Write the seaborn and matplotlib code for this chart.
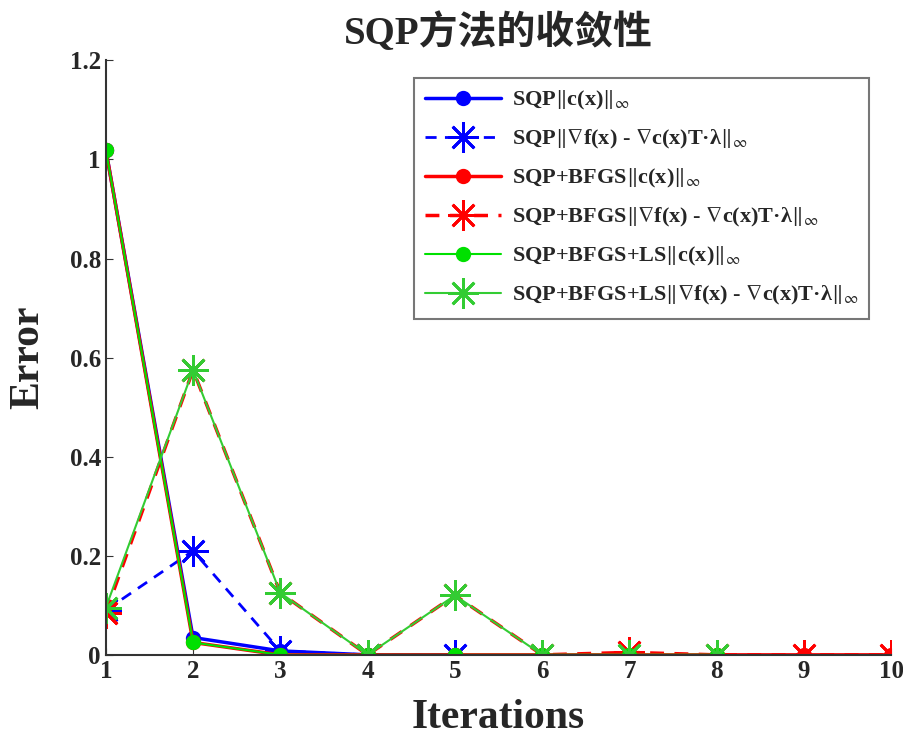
import matplotlib
matplotlib.use("Agg")
import matplotlib.pyplot as plt
import seaborn as sns
import pandas as pd
from matplotlib.ticker import FormatStrFormatter

sns.set_style("ticks")
plt.rcParams['font.family'] = ['Liberation Serif', 'DejaVu Serif', 'Noto Sans CJK SC']
plt.rcParams['mathtext.fontset'] = 'stix'
plt.rcParams['xtick.direction'] = 'in'
plt.rcParams['ytick.direction'] = 'in'

# data
it_sqp = [1, 2, 3, 4, 5]
sqp_c = [1.02, 0.035, 0.008, 0.0, 0.0]
sqp_g = [0.09, 0.21, 0.008, 0.0, 0.0]

it_bfgs = [1, 2, 3, 4, 5, 6, 7, 8, 9, 10]
bfgs_c = [1.02, 0.025, 0.0, 0.0, 0.0, 0.0, 0.0, 0.0, 0.0, 0.0]
bfgs_g = [0.085, 0.575, 0.125, 0.0, 0.12, 0.0, 0.005, 0.0, 0.0, 0.0]

it_ls = [1, 2, 3, 4, 5, 6, 7, 8]
ls_c = [1.02, 0.025, 0.0, 0.0, 0.0, 0.0, 0.0, 0.0]
ls_g = [0.095, 0.575, 0.125, 0.0, 0.12, 0.0, 0.0, 0.0]

lab_c = r"$\Vert$c(x)$\Vert_\infty$"
lab_g = r"$\Vert\nabla$f(x) - $\nabla$c(x)T·λ$\Vert_\infty$"

series = [
    (it_sqp, sqp_c, "SQP" + lab_c, "#0000ff", "-", "o", 2.5, 9),
    (it_sqp, sqp_g, "SQP" + lab_g, "#0000ff", (0, (4, 3)), (8, 2, 0), 2.0, 22),
    (it_bfgs, bfgs_c, "SQP+BFGS" + lab_c, "#ff0000", "-", "o", 2.5, 9),
    (it_bfgs, bfgs_g, "SQP+BFGS" + lab_g, "#ff0000", (0, (4, 3)), (8, 2, 0), 2.5, 22),
    (it_ls, ls_c, "SQP+BFGS+LS" + lab_c, "#00e000", "-", "o", 1.5, 9),
    (it_ls, ls_g, "SQP+BFGS+LS" + lab_g, "#33cc33", "-", (8, 2, 0), 1.5, 22),
]

fig = plt.figure(figsize=(9.04, 7.45), dpi=100)
ax = fig.add_axes([0.117, 0.121, 0.869, 0.798])

for x, y, lab, col, ls, mk, lw, ms in series:
    df = pd.DataFrame({"Iterations": x, "Error": y})
    sns.lineplot(data=df, x="Iterations", y="Error", ax=ax, color=col,
                 linestyle=ls, marker=mk, linewidth=lw, markersize=ms,
                 markeredgecolor=col, markeredgewidth=2.0, label=lab)

ax.set_xlim(1, 10)
ax.set_ylim(0, 1.2)
ax.set_xticks(range(1, 11))
ax.set_yticks([0, 0.2, 0.4, 0.6, 0.8, 1.0, 1.2])
ax.yaxis.set_major_formatter(FormatStrFormatter('%g'))
ax.tick_params(labelsize=18, length=5, color='#333333')
for lbl in ax.get_xticklabels() + ax.get_yticklabels():
    lbl.set_fontweight('bold')
sns.despine(ax=ax)
ax.spines['left'].set_color('#333333')
ax.spines['bottom'].set_color('#333333')
ax.spines['left'].set_linewidth(1.5)
ax.spines['bottom'].set_linewidth(1.5)

ax.set_xlabel("Iterations", fontsize=30, fontweight='bold', labelpad=12)
ax.set_ylabel("Error", fontsize=30, fontweight='bold', labelpad=16)
ax.set_title("SQP方法的收敛性", fontsize=28, pad=12, fontweight='bold',
             family=['Liberation Serif', 'Noto Sans CJK SC'])

leg = ax.legend(loc='upper right', bbox_to_anchor=(0.972, 0.97),
                borderaxespad=0, prop={'size': 16, 'weight': 'bold'},
                frameon=True, fancybox=False, edgecolor='#555555',
                handlelength=3.4, handletextpad=0.5, labelspacing=0.72,
                borderpad=0.5)
leg.get_frame().set_linewidth(1.5)

fig.savefig("out.png", dpi=100)
